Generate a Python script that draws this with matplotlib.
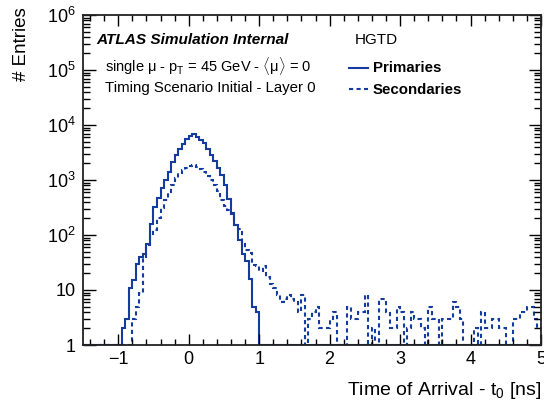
import numpy as np
import matplotlib
matplotlib.use("Agg")
import matplotlib.pyplot as plt
from matplotlib.ticker import FixedLocator, MultipleLocator, LogLocator, NullFormatter

plt.rcParams['font.family'] = ['Liberation Sans', 'DejaVu Sans']
plt.rcParams['mathtext.fontset'] = 'custom'
plt.rcParams['mathtext.rm'] = 'Liberation Sans'
plt.rcParams['mathtext.it'] = 'Liberation Sans:italic'
plt.rcParams['mathtext.bf'] = 'Liberation Sans:bold'

# histogram binning: 130 bins of 0.05 ns
t_lo, t_hi, n_bins = -1.5, 5.0, 130

# primaries, first bin starts at -0.95 ns
prim_start = -0.95
prim_counts = [2, 3, 11, 15, 30, 40, 45, 70, 160, 320, 480, 720, 1000, 1400, 2100, 2800, 3700, 4500, 5600,
               6400, 6800, 6100, 5400, 4700, 3700, 2900, 2200, 1650, 1250, 800, 450, 250, 150, 80, 45, 33, 16, 5, 4]

# secondaries, first bin starts at -0.80 ns
sec_start = -0.80
sec_counts = [3, 5, 9, 40, 66, 100, 123, 200, 305, 435, 615, 810, 1070, 1320, 1520, 1650, 1800, 1880,
              1750, 1600, 1400, 1200, 1000, 800, 620, 440, 330, 285, 245, 150, 130, 70, 53, 47, 28, 27, 22, 27,
              17, 13, 11, 8, 6, 7, 8, 7, 6, 4, 8, 1, 3, 4, 5, 2, 2, 2, 3, 4,
              0, 0, 0, 5, 3, 3, 4, 4, 8, 1, 2, 1, 7, 7, 4, 2, 2, 5, 4, 1,
              2, 4, 3, 3, 2, 1, 5, 3, 3, 1, 3, 3, 3, 6, 5, 3, 0, 0, 0, 2,
              0, 4, 2, 2, 3, 3, 2, 2, 0, 0, 3, 3, 4, 4, 5, 5, 3, 2]

edges = np.linspace(t_lo, t_hi, n_bins + 1)

def fill(start, counts):
    h = np.zeros(n_bins)
    i0 = int(round((start - t_lo) / 0.05))
    h[i0:i0 + len(counts)] = counts
    return np.maximum(h, 1)   # empty bins sit on the frame like in ROOT

h_prim = fill(prim_start, prim_counts)
h_sec = fill(sec_start, sec_counts)

col = '#143c9e'
fig = plt.figure(figsize=(5.44, 4.03), dpi=100)
ax = fig.add_axes([83/544, 1 - 345/403, (541 - 83)/544, 330/403])

ax.stairs(h_prim, edges, baseline=1, color=col, lw=1.5)
ax.stairs(h_sec, edges, baseline=1, color=col, lw=1.5, linestyle=(0, (2, 1.6)))

ax.set_yscale('log')
ax.set_ylim(1, 1e6)
ax.set_xlim(t_lo, t_hi)

ax.xaxis.set_major_locator(FixedLocator([-1, 0, 1, 2, 3, 4, 5]))
ax.xaxis.set_minor_locator(MultipleLocator(0.2))
ax.yaxis.set_major_locator(FixedLocator([1, 10, 1e2, 1e3, 1e4, 1e5, 1e6]))
ax.yaxis.set_minor_locator(LogLocator(base=10, subs=np.arange(2, 10)))
ax.yaxis.set_minor_formatter(NullFormatter())
ax.set_yticklabels(['1', '10', '$10^{2}$', '$10^{3}$', '$10^{4}$', '$10^{5}$', '$10^{6}$'])
ax.set_xticklabels(['\u22121', '0', '1', '2', '3', '4', '5'])

ax.tick_params(which='both', direction='in', top=True, right=True, labelsize=13, colors='black')
ax.tick_params(axis='y', which='major', length=9, width=1, pad=5)
ax.tick_params(axis='y', which='minor', length=5, width=1)
ax.tick_params(axis='x', which='major', length=8, width=1, pad=4)
ax.tick_params(axis='x', which='minor', length=4, width=1)
for s in ax.spines.values():
    s.set_linewidth(1.3)
    s.set_color('#222222')

def px(x, y):
    return x / 544, 1 - y / 403

fig.text(*px(541, 395), r'Time of Arrival - $\mathrm{t}_{0}$ [ns]', ha='right', va='baseline', fontsize=14)
fig.text(*px(21, 7), '# Entries', rotation=90, ha='center', va='top', fontsize=13.5)

fig.text(*px(96, 44), 'ATLAS Simulation Internal', fontsize=11.1, fontweight='bold', fontstyle='italic')
fig.text(*px(355, 44), 'HGTD', fontsize=11)
fig.text(*px(105, 72), r'single μ - $\mathrm{p}_{\mathrm{T}}$ = 45 GeV - $\langle$μ$\rangle$ = 0', fontsize=10.5)
fig.text(*px(105, 92), 'Timing Scenario Initial - Layer 0', fontsize=10.8)

# legend drawn by hand, ROOT style
for yy, ls, lab in [(68, '-', 'Primaries'), (89, (0, (2, 1.6)), 'Secondaries')]:
    fig.add_artist(plt.Line2D([349/544, 368/544], [1 - yy/403, 1 - yy/403], color=col, lw=1.5, linestyle=ls))
    fig.text(*px(373, yy + 4.5), lab, fontsize=10.8, fontweight='bold')

fig.savefig('out.png', dpi=100)
